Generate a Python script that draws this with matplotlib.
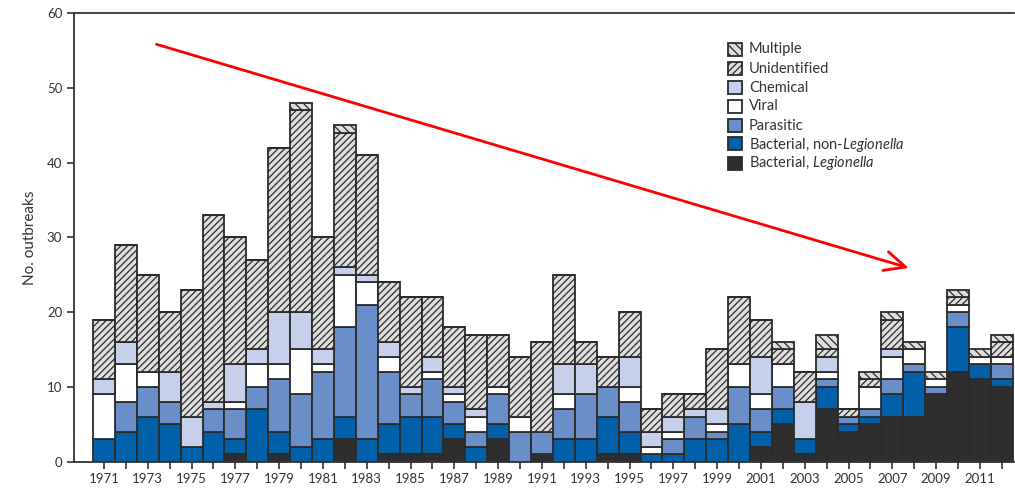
import matplotlib
matplotlib.use('Agg')
import matplotlib.pyplot as plt
from matplotlib.patches import Rectangle
import numpy as np

plt.rcParams['font.family'] = ['Lato', 'DejaVu Sans']
plt.rcParams['mathtext.fontset'] = 'custom'
plt.rcParams['mathtext.rm'] = 'Lato'
plt.rcParams['mathtext.it'] = 'Lato:italic'
plt.rcParams['hatch.linewidth'] = 0.9

# Données (nombre d'épidémies par année et par étiologie)
years = list(range(1971, 2013))
legionella = [0, 0, 0, 0, 0, 0, 1, 0, 1, 0, 0, 3, 0, 1, 1, 1, 3, 0, 3, 0, 1,
              0, 0, 1, 1, 0, 0, 0, 0, 0, 2, 5, 1, 7, 4, 5, 6, 6, 9, 12, 11, 10]
non_legionella = [3, 4, 6, 5, 2, 4, 2, 7, 3, 2, 3, 3, 3, 4, 5, 5, 2, 2, 2, 0, 0,
                  3, 3, 5, 3, 1, 1, 3, 3, 5, 2, 2, 2, 3, 1, 1, 3, 6, 0, 6, 2, 1]
parasitic = [0, 4, 4, 3, 0, 3, 4, 3, 7, 7, 9, 12, 18, 7, 3, 5, 3, 2, 4, 4, 3,
             4, 6, 4, 4, 0, 2, 3, 1, 5, 3, 3, 0, 1, 1, 1, 2, 1, 1, 2, 0, 2]
viral = [6, 5, 2, 0, 0, 0, 1, 3, 2, 6, 1, 7, 3, 2, 0, 1, 1, 2, 1, 2, 0,
         2, 0, 0, 2, 1, 1, 0, 1, 3, 2, 3, 0, 1, 0, 3, 3, 2, 1, 1, 1, 1]
chemical = [2, 3, 0, 4, 4, 1, 5, 2, 7, 5, 2, 1, 1, 2, 1, 2, 1, 1, 0, 0, 0,
            4, 4, 0, 4, 2, 2, 1, 2, 0, 5, 0, 5, 2, 0, 0, 1, 0, 0, 0, 0, 0]
unidentified = [8, 13, 13, 8, 17, 25, 17, 12, 22, 27, 15, 18, 16, 8, 12, 8, 8, 10, 7, 8, 12,
                12, 3, 4, 6, 3, 3, 2, 8, 9, 5, 2, 4, 1, 1, 1, 4, 0, 0, 1, 0, 2]
multiple = [0, 0, 0, 0, 0, 0, 0, 0, 0, 1, 0, 1, 0, 0, 0, 0, 0, 0, 0, 0, 0,
            0, 0, 0, 0, 0, 0, 0, 0, 0, 0, 1, 0, 2, 0, 1, 1, 1, 1, 1, 1, 1]

series = [
    ('Bacterial, $\\mathit{Legionella}$', legionella, '#2e2e2e', None),
    ('Bacterial, non-$\\mathit{Legionella}$', non_legionella, '#0060a9', None),
    ('Parasitic', parasitic, '#6a8ec8', None),
    ('Viral', viral, 'white', None),
    ('Chemical', chemical, '#c6d0ea', None),
    ('Unidentified', unidentified, '#dedede', '/////'),
    ('Multiple', multiple, '#dedede', '\\\\\\\\'),
]

W, H = 1015, 491
fig = plt.figure(figsize=(W / 100, H / 100), dpi=100)
ax = fig.add_axes([0.0729, 0.0597, 0.926, 0.914])

edge = '#2b2b2b'
bottom = np.zeros(len(years))
for label, vals, color, hatch in series:
    ax.bar(years, vals, width=1.0, bottom=bottom, color=color,
           edgecolor=edge, linewidth=1.3, hatch=hatch, label=label)
    bottom += np.array(vals)

# flèche rouge de tendance
ax.annotate('', xy=(2007.75, 25.9), xytext=(1973.4, 55.8),
            arrowprops=dict(arrowstyle='->,head_length=1.5,head_width=0.7',
                            color='#ff0000', lw=2.0, shrinkA=0, shrinkB=0))

ax.set_xlim(1969.63, 2012.55)
ax.set_ylim(0, 60)
ax.set_yticks(range(0, 61, 10))
ax.set_xticks(years)
ax.set_xticklabels([str(y) if y % 2 == 1 else '' for y in years])
ax.tick_params(axis='both', direction='out', length=5, width=1.2,
               colors='#333333', labelsize=9.5)
ax.set_ylabel('No. outbreaks', fontsize=11, color='#333333', labelpad=7)

ax.spines['right'].set_visible(False)
for s in ['left', 'bottom', 'top']:
    ax.spines[s].set_linewidth(1.3)
    ax.spines[s].set_color('#333333')

# légende construite à la main (espacement régulier des lignes)
for i, (label, vals, color, hatch) in enumerate(series[::-1]):
    yc = 49 + i * 19.0
    fig.add_artist(Rectangle((728 / W, 1 - (yc + 6.5) / H), 14 / W, 13 / H,
                             transform=fig.transFigure, facecolor=color,
                             edgecolor=edge, linewidth=1.3, hatch=hatch))
    fig.text(749 / W, 1 - (yc + 4.5) / H, label, fontsize=10.5,
             color='#333333', va='baseline', ha='left')

plt.savefig('out.png', dpi=100)
